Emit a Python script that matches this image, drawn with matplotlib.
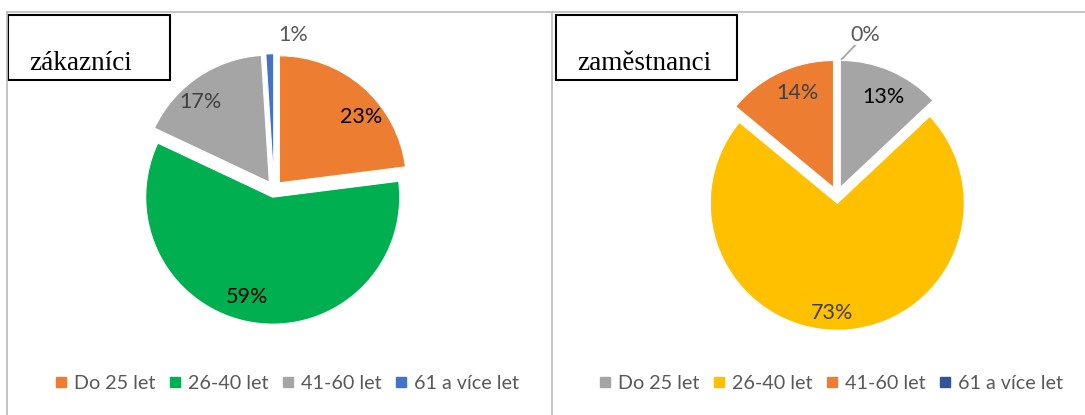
import numpy as np
import matplotlib
matplotlib.use("Agg")
import matplotlib.pyplot as plt
from matplotlib.lines import Line2D
from matplotlib.patches import Rectangle

# ---------------- data ----------------
categories = ["Do 25 let", "26-40 let", "41-60 let", "61 a více let"]
zakaznici_values = [23, 59, 17, 1]
zamestnanci_values = [13, 73, 14, 0]
titles = ["zákazníci", "zaměstnanci"]

# ---------------- style ----------------
zakaznici_colors = ["#ED7D31", "#00B050", "#A5A5A5", "#4472C4"]
zamestnanci_colors = ["#A5A5A5", "#FFC000", "#ED7D31", "#2F5597"]
zakaznici_label_colors = ["#000000", "#000000", "#404040", "#595959"]
zamestnanci_label_colors = ["#000000", "#404040", "#404040", "#595959"]
# label distance from pie centre (radius units) and small angular nudges (deg)
zakaznici_label_r = [0.895, 0.875, 0.90, 1.22]
zakaznici_label_shift = [-9, -5, 6, -9]
zamestnanci_label_r = [0.85, 0.93, 0.863, 1.28]
zamestnanci_label_shift = [-2, -4, -4, -10]

W, H = 1085, 415
fig = plt.figure(figsize=(W / 100, H / 100), dpi=100)
fig.patch.set_facecolor("white")

SANS = ["Lato", "DejaVu Sans"]
SERIF = ["Liberation Serif", "DejaVu Serif"]
R_PX = 127.0
EXPLODE = 0.065


def px(x, y):
    return x / W, 1 - y / H


# panel frame lines
frame_col = "#BFBFBF"
fig.add_artist(Line2D([7 / W, 1], [1 - 12 / H] * 2, transform=fig.transFigure, color=frame_col, lw=1.3))
for xv in (7, 552):
    fig.add_artist(Line2D([xv / W] * 2, [0, 1 - 12 / H], transform=fig.transFigure, color=frame_col, lw=1.3))


def draw_pie(cx, cy, values, colors, lab_r, lab_shift, lab_cols, leader_for_zero=False):
    half = 150
    ax = fig.add_axes([(cx - half) / W, (H - cy - half) / H, 2 * half / W, 2 * half / H])
    wedges, _ = ax.pie(values, colors=colors, startangle=90, counterclock=False,
                       explode=[EXPLODE] * len(values), radius=1,
                       wedgeprops=dict(edgecolor="white", linewidth=0.8))
    lim = half / R_PX
    ax.set_xlim(-lim, lim)
    ax.set_ylim(-lim, lim)
    ax.set_aspect("auto")
    ax.axis("off")
    for w, v, r, sh, c in zip(wedges, values, lab_r, lab_shift, lab_cols):
        mid = (w.theta1 + w.theta2) / 2
        a = np.deg2rad(mid + sh)
        ax.text(r * np.cos(a), r * np.sin(a), f"{v}%", ha="center", va="center",
                fontsize=15.5, color=c, family=SANS)
        if leader_for_zero and v == 0:
            a1 = np.deg2rad(mid - 2)
            a2 = np.deg2rad(mid - 7)
            ax.plot([1.07 * np.cos(a1), 1.19 * np.cos(a2)], [1.07 * np.sin(a1), 1.19 * np.sin(a2)],
                    color="#A5A5A5", lw=1.3)
    return ax


draw_pie(274, 189, zakaznici_values, zakaznici_colors, zakaznici_label_r,
         zakaznici_label_shift, zakaznici_label_colors)
draw_pie(837, 195, zamestnanci_values, zamestnanci_colors, zamestnanci_label_r,
         zamestnanci_label_shift, zamestnanci_label_colors, leader_for_zero=True)

# title boxes
for (x0, x1, tx), t in zip([(8, 170, 29), (556, 737, 577)], titles):
    fig.add_artist(Rectangle(px(x0, 80), (x1 - x0) / W, 65 / H, transform=fig.transFigure,
                             facecolor="white", edgecolor="black", lw=1.5))
    fig.text(*px(tx, 70), t, ha="left", va="baseline", fontsize=19.5, family=SERIF, color="black")

# legends
for colors, cxl in [(zakaznici_colors, 287), (zamestnanci_colors, 831)]:
    handles = [Line2D([], [], marker="s", linestyle="none", markersize=6.5, color=c) for c in colors]
    leg = fig.legend(handles, categories, loc="center", bbox_to_anchor=px(cxl, 383),
                     bbox_transform=fig.transFigure, ncol=4, frameon=False,
                     handlelength=0.6, handletextpad=0.35, columnspacing=0.7,
                     prop=dict(family=SANS, size=14.2))
    for t in leg.get_texts():
        t.set_color("#595959")

fig.savefig("out.png", dpi=100, facecolor="white")
